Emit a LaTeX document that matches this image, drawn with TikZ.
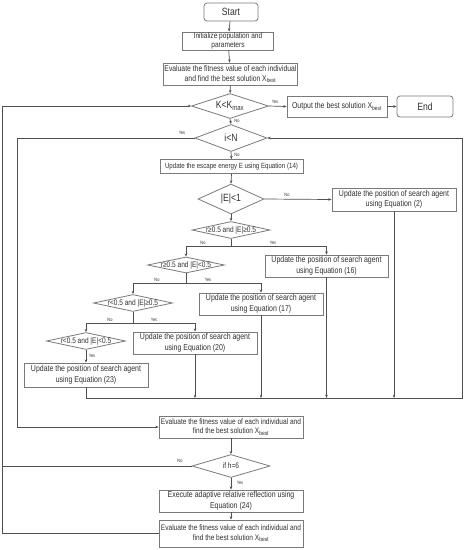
\documentclass[tikz,border=0pt]{standalone}
\usepackage{fontspec}
\setmainfont[FakeStretch=0.82]{Liberation Sans}
\usetikzlibrary{shapes.geometric,arrows.meta}
\definecolor{boxgray}{HTML}{7A7A7A}
\definecolor{linegray}{HTML}{505050}
\definecolor{txt}{HTML}{303030}
\begin{document}
\begin{tikzpicture}[x=1pt,y=-1pt,
  box/.style={draw=boxgray, line width=0.8pt, fill=white, inner sep=1pt, align=center, text=txt},
  rbox/.style={box, rounded corners=3pt},
  dia/.style={draw=boxgray, line width=0.8pt, diamond, inner sep=0pt, fill=white},
  lab/.style={text=txt, inner sep=0pt},
  conn/.style={draw=linegray, line width=0.7pt},
  arr/.style={conn, -{Stealth[length=3.2pt,width=2.6pt]}},
  yn/.style={font=\fontsize{4.8}{5}\selectfont, text=txt, inner sep=0.5pt},
  upd/.style={box, minimum width=124pt, minimum height=22pt, font=\fontsize{8.5}{10.5}\selectfont},
]
\useasboundingbox (0,0) rectangle (464,550);

% nodes
\node[rbox, minimum width=54pt, minimum height=18pt, font=\fontsize{10.5}{12}\selectfont] (start) at (231,12) {Start};
\node[box, minimum width=91pt, minimum height=18pt, font=\fontsize{8}{8.6}\selectfont] (init) at (228,41) {Initialize population and\\parameters};
\node[box, minimum width=133pt, minimum height=22pt, font=\fontsize{8.3}{9.6}\selectfont] (eval1) at (230.5,74) {Evaluate the fitness value of each individual\\and find the best solution X\textsubscript{best}};
\node[dia, minimum width=77pt, minimum height=25pt, label={[lab, font=\fontsize{10.5}{12}\selectfont]center:K<K\textsubscript{max}}] (d1) at (230,106) {};
\node[box, minimum width=100pt, minimum height=21pt, font=\fontsize{8.5}{10}\selectfont] (out) at (337,106.5) {Output the best solution X\textsubscript{best}};
\node[rbox, minimum width=56pt, minimum height=21pt, font=\fontsize{10.5}{12}\selectfont] (end) at (425,106.5) {End};
\node[dia, minimum width=72pt, minimum height=27pt, label={[lab, font=\fontsize{10.5}{12}\selectfont]center:i<N}] (d2) at (231,138) {};
\node[box, minimum width=143pt, minimum height=14pt, font=\fontsize{7.5}{9}\selectfont] (esc) at (231.5,166.5) {Update the escape energy E using Equation (14)};
\node[dia, minimum width=66pt, minimum height=30pt, label={[lab, font=\fontsize{10.5}{12}\selectfont]center:|E|<1}] (d3) at (231,199) {};
\node[upd, minimum height=23pt] (u2) at (394,199.5) {Update the position of search agent\\using Equation (2)};
\node[dia, minimum width=78pt, minimum height=17pt, label={[lab, font=\fontsize{8}{9}\selectfont]center:r≥0.5 and |E|≥0.5}] (d4) at (231,230) {};
\node[upd, minimum width=123pt] (u16) at (326.5,266) {Update the position of search agent\\using Equation (16)};
\node[dia, minimum width=77pt, minimum height=16pt, label={[lab, font=\fontsize{8}{9}\selectfont]center:r≥0.5 and |E|<0.5}] (d5) at (186,265) {};
\node[upd] (u17) at (261,304) {Update the position of search agent\\using Equation (17)};
\node[dia, minimum width=79pt, minimum height=17pt, label={[lab, font=\fontsize{8}{9}\selectfont]center:r<0.5 and |E|≥0.5}] (d6) at (133,303) {};
\node[upd] (u20) at (195,343) {Update the position of search agent\\using Equation (20)};
\node[dia, minimum width=79pt, minimum height=17pt, label={[lab, font=\fontsize{8}{9}\selectfont]center:r<0.5 and |E|<0.5}] (d7) at (86,341) {};
\node[upd, minimum height=24pt] (u23) at (86,375) {Update the position of search agent\\using Equation (23)};
\node[box, minimum width=144pt, minimum height=22pt, font=\fontsize{8}{9.6}\selectfont] (eval2) at (231,427) {Evaluate the fitness value of each individual and\\find the best solution X\textsubscript{best}};
\node[dia, minimum width=78pt, minimum height=23pt, label={[lab, font=\fontsize{8}{9}\selectfont]center:if h=6}] (d8) at (231,466) {};
\node[box, minimum width=144pt, minimum height=22pt, font=\fontsize{8.5}{10.5}\selectfont] (exec) at (231,501) {Execute adaptive relative reflection using\\Equation (24)};
\node[box, minimum width=144pt, minimum height=27pt, font=\fontsize{8}{9.6}\selectfont] (eval3) at (231,533.5) {Evaluate the fitness value of each individual and\\find the best solution X\textsubscript{best}};

% helper coordinates
\coordinate (lo) at (2,0);
\coordinate (li) at (17,0);
\coordinate (cr) at (462,398);

% main flow
\draw[arr] (start) -- (init);
\draw[arr] (init) -- (eval1);
\draw[arr] (eval1) -- (d1);
\draw[arr] (d1.east) -- (out.west);
\draw[arr] (out) -- (end);
\draw[arr] (d1.south) -- (d2.north);
\draw[arr] (d2.south) -- (esc.north);
\draw[arr] (esc.south) -- (d3.north);
\draw[arr] (d3.east) -- (u2.west);
\draw[arr] (d3.south) -- (d4.north);
\draw[arr] (d4.south) -- ++(0,7.5) -| (d5.north);
\draw[arr] (d4.south) -- ++(0,7.5) -| (u16.north);
\draw[arr] (d5.south) -- ++(0,10) -| (d6.north);
\draw[arr] (d5.south) -- ++(0,10) -| (u17.north);
\draw[arr] (d6.south) -- ++(0,11.5) -| (d7.north);
\draw[arr] (d6.south) -- ++(0,11.5) -| (u20.north);
\draw[arr] (d7.south) -- (u23.north);

% collecting line back to i<N
\draw[arr] (u23.south) |- (cr) |- (d2.east);
\draw[arr] (u20.south) -- (u20.south |- cr);
\draw[arr] (u17.south) -- (u17.south |- cr);
\draw[arr] (u16.south) -- (u16.south |- cr);
\draw[arr] (u2.south) -- (u2.south |- cr);

% i<N yes loop
\draw[arr] (d2.west) -| (li |- eval2.west) -- (eval2.west);

\draw[arr] (eval2.south) -- (d8.north);
\draw[arr] (d8.south) -- (exec.north);
\draw[arr] (exec.south) -- (eval3.north);

% outer loop
\draw[arr] (eval3.west) -- (eval3.west -| lo) -- (lo |- d1.west) -- (d1.west);
\draw[conn] (d8.west) -- (d8.west -| lo);

% yes / no labels
\node[yn] (y1) at (275,102) {Yes};
\node[yn] (n1) at (237,121) {No};
\node[yn] (y2) at (182,133) {Yes};
\node[yn] (n2) at (237,154.5) {No};
\node[yn] (n3) at (287,194.5) {No};
\node[yn] (n4) at (203,243) {No};
\node[yn] (y4) at (273,243) {Yes};
\node[yn] (n5) at (157,279.5) {No};
\node[yn] (y5) at (208,279.5) {Yes};
\node[yn] (n6) at (110,319.5) {No};
\node[yn] (y6) at (154,319.5) {Yes};
\node[yn] (y7) at (92,356) {Yes};
\node[yn] (n8) at (180,461) {No};
\node[yn] (y8) at (240,483) {Yes};
\end{tikzpicture}
\end{document}
